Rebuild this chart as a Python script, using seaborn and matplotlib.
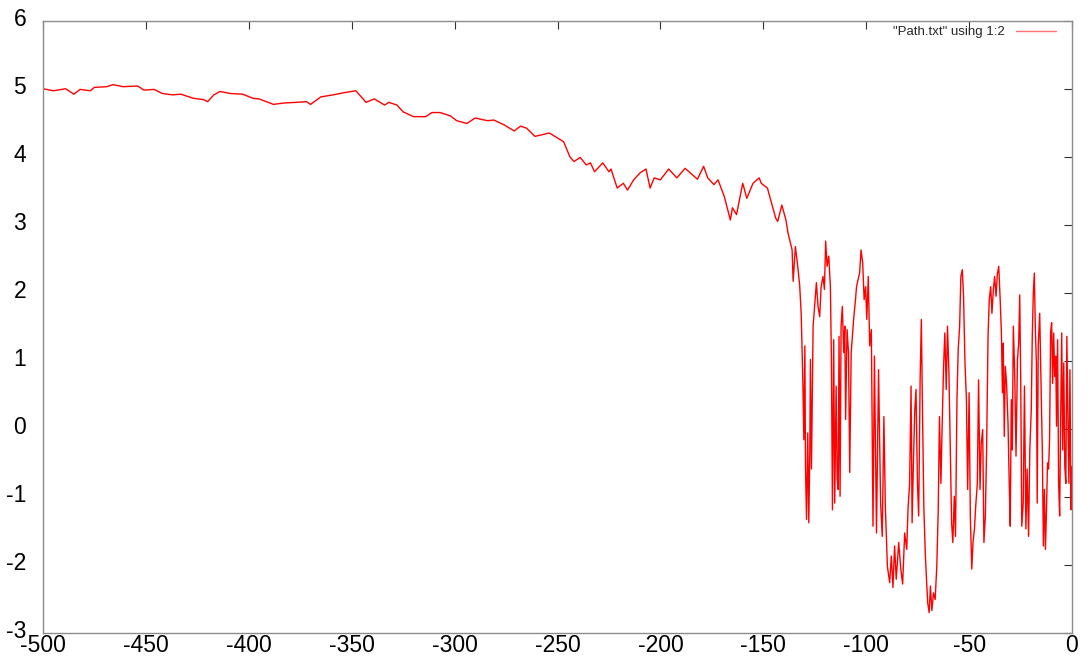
import matplotlib
matplotlib.use("Agg")
import matplotlib.pyplot as plt
import matplotlib.transforms as mtransforms
import seaborn as sns
import pandas as pd

# Path samples: position (column 1) and value (column 2)
path_x = [
    -500, -495, -489, -485, -482, -477, -475, -469, -466, -461, -454, -451, -446,
    -442, -437, -433, -427, -422, -420, -417, -414, -409, -403, -398, -395, -388,
    -383, -377, -372, -370, -365, -359, -354, -348, -343, -339, -334, -332, -328,
    -325, -320, -314, -311, -307, -302, -299, -294, -290, -284, -281, -276, -271,
    -268, -265, -261, -258, -254, -247, -244, -242, -239, -236, -234, -232, -228,
    -225, -224, -221, -218, -216, -213, -210, -207, -205, -203, -200, -196, -192,
    -188, -182, -179, -177, -174, -172, -169, -166, -165, -163, -160, -158, -155,
    -152, -151, -148, -146, -144, -143, -141, -139, -138, -136, -135.5, -134.4,
    -133.3, -132.3,
    -131.6, -130.8, -130.3, -129.8, -129.5, -129.0, -128.4, -127.9, -127.4, -127.1,
    -126.6, -126.1, -125.8, -125.2, -124.2, -123.4, -122.6, -121.9, -121.0, -120.3,
    -119.7, -119.0, -118.2, -117.4, -116.9, -116.4, -115.8, -115.3, -114.6, -114.1,
    -113.6, -113.2, -112.7, -112.2, -111.6, -110.9, -110.4, -110.0, -109.3, -108.6,
    -108.0, -107.3, -106.7, -106.0, -105.2, -104.7, -104.0, -103.2, -102.5, -101.7,
    -101.0, -100.3, -99.7, -99.0, -98.3,
    -97.5, -96.7, -96.0, -95.0, -94.0, -93.0, -92.2, -91.4, -90.7, -89.7, -88.6,
    -87.8, -87.0, -86.2, -85.4, -84.2, -83.2, -82.3, -81.3, -80.3, -79.7, -78.9,
    -78.2, -77.7, -77.1, -76.4, -75.8, -75.1, -74.5, -73.8, -73.2, -72.7, -72.0,
    -71.3, -70.7, -70.1, -69.4, -68.8, -68.1, -67.3, -66.5, -65.7, -65.0, -64.4,
    -63.7, -63.1, -62.4, -61.8, -61.1, -60.5, -59.8, -59.1, -58.5, -57.9, -57.2,
    -56.6, -55.9, -55.3, -54.6, -54.0, -53.3, -52.7, -52.0, -51.3, -50.7, -50.0,
    -49.4, -48.7, -48.1, -47.4, -46.8, -46.0, -45.4, -44.7, -44.1, -43.4, -42.8,
    -42.1, -41.5, -40.8, -40.2, -39.5, -38.9, -38.2, -37.6, -36.9, -36.3, -35.6,
    -34.9, -34.3, -33.8, -33.4, -32.9, -32.4, -31.8, -31.1, -30.5, -30.0, -29.5,
    -29.0, -28.5, -27.8, -27.2, -26.5, -25.9, -25.4, -24.9, -24.4, -23.7, -23.1,
    -22.4, -21.8, -21.1, -20.5, -19.8, -19.3, -18.8, -18.3, -17.8, -17.3, -16.9,
    -16.4, -15.7, -15.1, -14.4, -13.9, -13.4, -12.9, -12.4, -11.9, -11.4, -10.9,
    -10.4, -9.9, -9.4, -8.9, -8.4, -7.9, -7.5, -7.0, -6.5, -6.0, -5.5, -5.0, -4.5,
    -4.0, -3.5, -3.0, -2.5, -2.0, -1.5, -1.0, -0.5, 0.0,
]
path_y = [
    5.00, 4.97, 5.00, 4.92, 4.99, 4.97, 5.02, 5.03, 5.06, 5.03, 5.04, 4.98, 4.99,
    4.93, 4.91, 4.92, 4.86, 4.84, 4.81, 4.91, 4.96, 4.93, 4.92, 4.86, 4.85, 4.77,
    4.79, 4.80, 4.81, 4.77, 4.88, 4.91, 4.94, 4.97, 4.80, 4.85, 4.76, 4.80, 4.76,
    4.66, 4.59, 4.59, 4.65, 4.65, 4.60, 4.53, 4.49, 4.57, 4.53, 4.54, 4.47, 4.38,
    4.45, 4.42, 4.30, 4.32, 4.35, 4.22, 4.00, 3.93, 3.99, 3.88, 3.91, 3.78, 3.91,
    3.78, 3.82, 3.54, 3.61, 3.51, 3.66, 3.76, 3.82, 3.54, 3.69, 3.66, 3.82, 3.69,
    3.83, 3.67, 3.86, 3.69, 3.59, 3.66, 3.42, 3.07, 3.25, 3.15, 3.61, 3.39, 3.61,
    3.69, 3.61, 3.54, 3.32, 3.10, 3.05, 3.29, 3.07, 2.88, 2.63, 2.17, 2.68,
    2.40, 2.10,
    1.70, 0.72, -0.16, 1.22, -0.55, -1.33, -0.06, -1.38, -0.35, 1.02,
    -0.59, 0.78, 1.51, 1.75, 2.15, 1.80, 1.65, 2.09, 2.24, 2.05,
    2.76, 2.39, 2.54, 2.09, 1.02, -1.19, 1.31, -1.09, 0.63, -0.74,
    -0.89, 1.36, -0.99, 1.51, 1.80, 1.12, 1.51, 0.14, 1.46, 1.12,
    -0.64, 1.12, 1.36, 1.65, 1.90, 2.09, 2.19, 2.29, 2.63, 2.44,
    1.90, 2.09, 1.61, 2.24, 1.22,
    1.46, -1.43, 1.07, -1.53, 0.87, -1.09, -1.58, 0.18, -1.14, -2.02, -2.26,
    -1.87, -2.33, -1.72, -2.21, -1.67, -2.06, -2.28, -1.53, -1.77, -1.19, -0.80,
    0.63, -1.38, -0.55, 0.28, 0.58, -0.80, -1.28, 0.72, 1.61, 0.38, -1.14,
    -1.82, -2.21, -2.56, -2.70, -2.31, -2.67, -2.41, -2.51, -2.02, -1.19, 0.18,
    -0.80, 0.04, 0.92, 1.41, 0.58, 1.51, 0.82, -0.35, -1.38, -1.67, -0.99,
    -1.58, 0.43, 1.16, 1.51, 2.24, 2.34, 1.95, 0.97, 0.43, -0.89, 0.53,
    -1.28, -2.06, -1.67, -1.47, -1.14, -0.80, 0.72, -0.89, -0.21, -0.01, -1.67,
    -1.28, -0.31, 1.36, 1.90, 2.09, 1.70, 2.05, 2.24, 1.95, 2.27, 2.39,
    1.90, 1.41, 0.53, 1.26, -0.11, 0.92, 0.67, 0.09, -0.80, -1.43, 0.43,
    -0.31, 1.51, 0.77, -0.40, 1.02, 1.26, 1.97, 0.67, -1.43, -1.09, 0.63,
    -1.47, -0.59, -1.58, -0.31, 0.28, 1.36, 2.00, 2.29, 1.46, 0.97, -1.09,
    1.22, 1.70, 0.77, -0.35, -1.72, -0.89, -1.77, -1.19, -0.50, -0.59, -0.16,
    1.41, 1.56, 0.67, 1.41, 0.77, 1.07, 0.04, 1.31, -0.80, -1.28, 0.18, 1.41, -0.31,
    0.97, -0.55, -0.80, 1.36, 0.18, -0.80, 0.87, -1.19, -0.55,
]

x_ticks = [-500, -450, -400, -350, -300, -250, -200, -150, -100, -50, 0]
y_ticks = [-3, -2, -1, 0, 1, 2, 3, 4, 5, 6]
series_label = '"Path.txt" using 1:2'

df = pd.DataFrame({"x": path_x, "y": path_y})

sns.set_theme(style="white")
plt.rcParams["font.family"] = ["Liberation Sans", "DejaVu Sans"]

fig = plt.figure(figsize=(10.9, 6.59), dpi=100)
ax = fig.add_axes([43 / 1090, 1 - 633 / 659, (1072 - 43) / 1090, (633 - 20.7) / 659])

sns.lineplot(data=df, x="x", y="y", ax=ax, color="#ff0000", linewidth=1.0,
             estimator=None, sort=False, label=series_label)

ax.set_xlim(-500, 0)
ax.set_ylim(-3, 6)
ax.set_xticks(x_ticks)
ax.set_yticks(y_ticks)
ax.set_xticklabels([str(v) for v in x_ticks])
ax.set_yticklabels([str(v) for v in y_ticks])
ax.set_xlabel("")
ax.set_ylabel("")

for side in ["left", "right", "top", "bottom"]:
    ax.spines[side].set_visible(True)
    ax.spines[side].set_color("#8c8c8c")
    ax.spines[side].set_linewidth(1.0)

ax.tick_params(axis="both", which="major", direction="in", length=6, width=0.8,
               color="#333333", top=True, right=True, labelsize=16.5,
               labelcolor="black")
ax.tick_params(axis="y", pad=12)
ax.tick_params(axis="x", pad=1)

# y labels sit slightly above their ticks
lift = mtransforms.ScaledTranslation(0, 4 / 100, fig.dpi_scale_trans)
for lbl in ax.get_yticklabels():
    lbl.set_transform(lbl.get_transform() + lift)

leg = ax.legend(loc="upper right", bbox_to_anchor=(1056 / 1090, 1 - 26 / 659),
                bbox_transform=fig.transFigure, frameon=False, fontsize=9.5,
                markerfirst=False, handlelength=3.0, handletextpad=0.9,
                borderpad=0, borderaxespad=0)
for line in leg.get_lines():
    line.set_linewidth(1.0)
    line.set_color("#ff7070")

fig.savefig("out.png", dpi=100)
